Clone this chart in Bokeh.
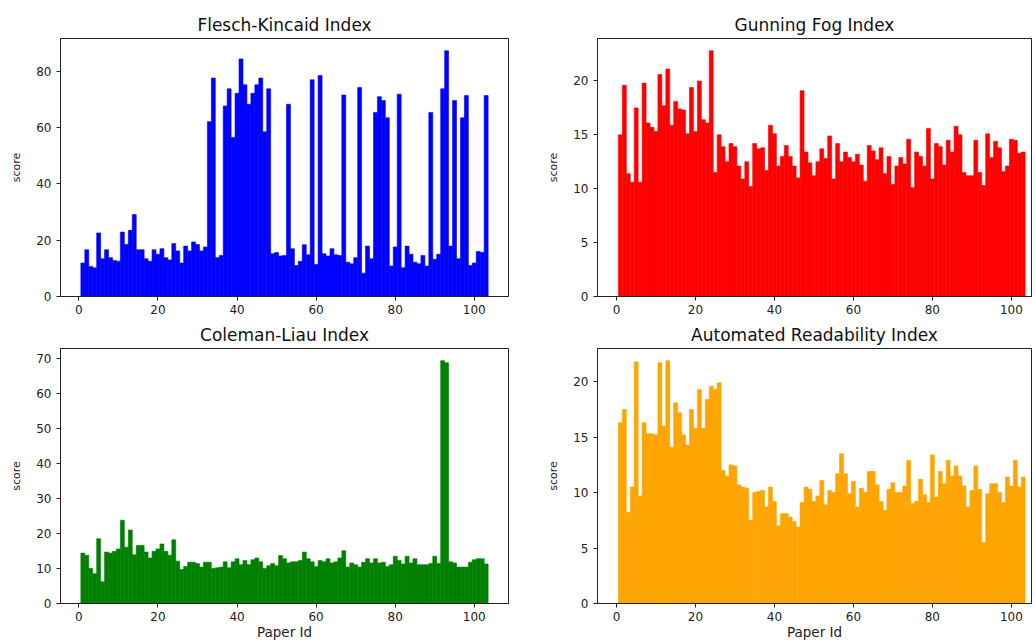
from bokeh.plotting import figure
from bokeh.layouts import column, row
from bokeh.models import FixedTicker, Range1d
from bokeh.embed import file_html
from bokeh.resources import INLINE

paper_ids = list(range(1, 104))

flesch_kincaid = [
    11.9, 16.6, 10.7, 10.2, 22.6, 13.4, 16.6, 13.8, 12.8, 12.5,
    22.9, 18.5, 23.5, 29.1, 16.6, 16.6, 13.4, 12.5, 16.6, 15.0,
    17.0, 13.8, 13.0, 18.8, 16.2, 11.9, 17.9, 16.2, 19.4, 18.5,
    16.2, 17.6, 62.1, 77.6, 13.8, 14.6, 67.7, 73.8, 56.5, 72.2,
    84.4, 75.2, 68.3, 72.2, 75.2, 77.6, 58.5, 73.8, 15.2, 15.6,
    14.4, 14.6, 68.3, 17.0, 11.0, 12.5, 18.4, 14.8, 77.0, 11.4,
    78.5, 15.2, 14.4, 17.0, 14.8, 14.6, 71.6, 12.2, 11.6, 13.8,
    74.3, 8.3, 17.9, 13.4, 65.4, 71.0, 69.6, 63.5, 10.8, 17.6,
    71.9, 10.2, 17.9, 15.0, 12.2, 11.6, 14.6, 10.8, 65.4, 13.2,
    15.0, 73.8, 87.3, 17.9, 69.6, 13.4, 63.5, 71.4, 11.0, 11.9,
    16.0, 15.6, 71.4,
]

gunning_fog = [
    15.0, 19.6, 11.4, 10.6, 17.5, 10.6, 19.8, 16.1, 15.7, 15.3,
    20.6, 17.7, 21.1, 15.9, 18.1, 17.4, 17.3, 15.1, 19.4, 15.3,
    20.0, 16.4, 16.1, 22.8, 11.5, 15.0, 13.9, 12.5, 14.2, 13.9,
    12.1, 10.9, 12.5, 10.2, 14.2, 13.7, 13.8, 11.7, 15.9, 15.1,
    12.1, 13.0, 14.0, 13.0, 12.1, 11.0, 19.1, 13.4, 12.4, 11.2,
    12.5, 13.7, 12.8, 14.9, 10.9, 14.2, 12.5, 13.4, 12.9, 12.5,
    13.2, 12.2, 10.7, 14.0, 13.5, 12.7, 13.8, 11.4, 13.0, 10.4,
    12.1, 12.9, 12.3, 14.6, 10.1, 13.4, 13.0, 12.1, 15.6, 10.9,
    14.2, 13.9, 12.2, 14.5, 13.4, 15.8, 15.0, 11.5, 11.2, 11.2,
    14.5, 11.5, 10.3, 15.1, 12.9, 14.4, 13.8, 11.6, 12.1, 14.6,
    14.5, 13.3, 13.4,
]

coleman_liau = [
    14.4, 13.8, 10.0, 8.5, 18.5, 6.2, 14.7, 14.4, 14.9, 15.6,
    23.8, 16.1, 21.0, 13.9, 16.6, 16.6, 14.7, 13.0, 14.9, 15.6,
    17.0, 14.9, 13.8, 18.2, 12.1, 9.7, 10.6, 11.8, 11.8, 11.4,
    10.4, 11.8, 11.8, 10.0, 10.2, 10.4, 11.9, 10.2, 11.9, 12.8,
    11.1, 12.3, 11.1, 12.5, 13.0, 11.9, 10.0, 10.8, 11.4, 10.8,
    13.7, 12.8, 11.6, 11.9, 11.9, 12.3, 14.7, 12.8, 11.9, 10.6,
    12.3, 11.9, 12.8, 11.6, 11.9, 13.0, 15.1, 10.4, 11.6, 11.1,
    10.4, 11.8, 12.8, 11.6, 12.8, 11.6, 11.8, 10.6, 11.1, 13.5,
    12.3, 11.3, 13.5, 11.6, 12.8, 11.1, 11.1, 11.1, 11.4, 13.5,
    11.4, 69.4, 68.8, 11.9, 11.6, 10.4, 10.4, 10.4, 11.8, 12.5,
    12.8, 12.8, 11.3,
]

automated_readability = [
    16.3, 17.5, 8.2, 10.5, 21.8, 9.7, 16.3, 15.3, 15.3, 15.2,
    21.7, 16.0, 21.9, 14.1, 18.1, 17.2, 15.2, 14.3, 17.5, 15.8,
    19.3, 15.8, 18.4, 19.6, 19.3, 19.9, 12.0, 11.5, 12.5, 12.4,
    10.7, 10.5, 10.4, 7.5, 10.0, 10.1, 10.2, 8.7, 10.5, 9.2,
    7.0, 8.1, 8.1, 7.8, 7.4, 6.9, 9.1, 10.5, 10.3, 9.2,
    9.7, 11.1, 8.9, 10.2, 10.0, 11.7, 13.5, 11.7, 9.9, 11.0,
    8.7, 10.4, 10.0, 11.9, 11.9, 10.7, 9.2, 8.4, 10.3, 10.9,
    10.0, 10.0, 10.6, 12.9, 9.0, 9.2, 11.2, 9.8, 9.1, 13.4,
    9.6, 11.9, 10.8, 12.9, 11.5, 12.4, 11.5, 10.6, 8.7, 10.2,
    12.4, 10.3, 5.5, 9.9, 10.8, 10.8, 10.0, 9.1, 11.4, 10.6,
    12.9, 10.5, 11.4,
]

titles = ["Flesch-Kincaid Index", "Gunning Fog Index", "Coleman-Liau Index", "Automated Readability Index"]
colors = ["#0000ff", "#ff0000", "#008000", "#ffa500"]
y_ticks = [[0, 20, 40, 60, 80], [0, 5, 10, 15, 20], [0, 10, 20, 30, 40, 50, 60, 70], [0, 5, 10, 15, 20]]
x_ticks = [0, 20, 40, 60, 80, 100]
x_label = "Paper Id"
y_label = "score"

FONT = "DejaVu Sans"


def make_panel(idx, values, width, height, left, right, top, bottom, x_start, x_end, show_xlabel):
    p = figure(width=width, height=height, output_backend="svg", toolbar_location=None,
               title=titles[idx], min_border_left=left, min_border_right=right,
               min_border_top=top, min_border_bottom=bottom)
    p.x_range = Range1d(x_start, x_end)
    p.y_range = Range1d(0, max(values) * 1.05)
    p.vbar(x=paper_ids, top=values, width=1.0, bottom=0,
           fill_color=colors[idx], line_color=colors[idx], line_width=0.6)
    p.title.align = "center"
    p.title.text_font = FONT
    p.title.text_font_size = "17px"
    p.title.text_font_style = "normal"
    p.title.text_color = "#111111"
    p.title.standoff = 7
    p.xgrid.visible = False
    p.ygrid.visible = False
    p.outline_line_color = "#222222"
    p.outline_line_width = 1
    p.background_fill_color = "white"
    p.border_fill_color = "white"
    p.xaxis.ticker = FixedTicker(ticks=x_ticks)
    p.yaxis.ticker = FixedTicker(ticks=y_ticks[idx])
    for ax in (p.xaxis, p.yaxis):
        ax.minor_tick_line_color = None
        ax.major_tick_in = 0
        ax.major_tick_out = 4
        ax.major_tick_line_color = "#222222"
        ax.axis_line_color = "#222222"
        ax.major_label_text_font = FONT
        ax.major_label_text_font_size = "12px"
        ax.major_label_text_color = "#222222"
        ax.axis_label_text_font = FONT
        ax.axis_label_text_font_style = "normal"
        ax.axis_label_text_color = "#222222"
    p.yaxis.axis_label = y_label
    p.yaxis.axis_label_text_font_size = "11px"
    p.yaxis.major_label_standoff = 5
    p.yaxis.axis_label_standoff = 10
    p.xaxis.major_label_standoff = 4
    if show_xlabel:
        p.xaxis.axis_label = x_label
        p.xaxis.axis_label_text_font_size = "13.5px"
        p.xaxis.axis_label_standoff = 0
    return p


p1 = make_panel(0, flesch_kincaid, 540, 318, 60, 32, 38, 22, -4.65, 108.65, False)
p2 = make_panel(1, gunning_fog, 493, 318, 57, 2, 38, 22, -4.8, 105.1, False)
p3 = make_panel(2, coleman_liau, 540, 324, 60, 32, 30, 36, -4.65, 108.65, True)
p4 = make_panel(3, automated_readability, 493, 324, 57, 2, 30, 36, -4.8, 105.1, True)

layout = column(row(p1, p2), row(p3, p4))

open("out.html", "w").write(file_html(layout, INLINE))
